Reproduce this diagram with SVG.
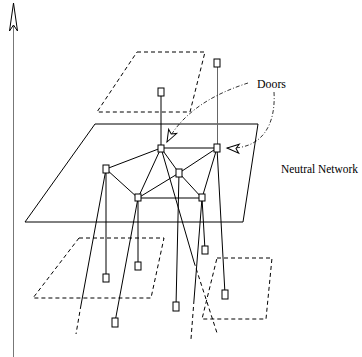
<svg xmlns="http://www.w3.org/2000/svg" width="362" height="357" viewBox="0 0 362 357">
<defs>
<style>
.ln{stroke:#000;stroke-width:1;fill:none}
.dsh{stroke:#000;stroke-width:1;fill:none;stroke-dasharray:4 3}
.dd{stroke:#000;stroke-width:0.8;fill:none;stroke-dasharray:4 2 1 2}
.nd{fill:#fff;stroke:#000;stroke-width:1}
.ah{fill:#fff;stroke:#000;stroke-width:1;stroke-linejoin:miter}
text{font-family:"Liberation Serif","Times New Roman",serif;font-size:12px;fill:#000}
</style>
<marker id="open" markerUnits="userSpaceOnUse" markerWidth="16" markerHeight="12" refX="14" refY="6" orient="auto" viewBox="0 0 16 12">
<path d="M14,6 L2,1.5 L5,6 L2,10.5 Z" fill="#fff" stroke="#000" stroke-width="1"/>
</marker>
</defs>
<rect width="362" height="357" fill="#fff"/>

<g id="axis">
<line x1="13.5" y1="26" x2="13.5" y2="357" stroke="#777" stroke-width="1"/>
<polygon class="ah" points="13.5,3 9.5,31 13.5,25 17.5,31"/>
</g>

<g id="planes">
<polygon class="dsh" points="137,52 205,52 190,112 97,112"/>
<polygon class="ln" points="95,124 258,124 243,222 25,222"/>
<polygon class="dsh" points="79,238 164,238 151,298 33,298"/>
<polygon class="dsh" points="217,258 272,258 266,319 202,319"/>
</g>

<g id="connectors">
<line class="ln" x1="161" y1="92" x2="161" y2="148"/>
<line x1="217.5" y1="63" x2="217.5" y2="148" stroke="#666" stroke-width="1"/>
<line class="ln" x1="161" y1="148" x2="217" y2="148"/>
<line class="ln" x1="161" y1="148" x2="106" y2="169"/>
<line class="ln" x1="161" y1="148" x2="138" y2="198"/>
<line class="ln" x1="161" y1="148" x2="179" y2="173"/>
<line class="ln" x1="179" y1="173" x2="202" y2="198"/>
<line class="ln" x1="217" y1="148" x2="179" y2="173"/>
<line class="ln" x1="179" y1="173" x2="138" y2="198"/>
<line class="ln" x1="217" y1="148" x2="202" y2="198"/>
<line class="ln" x1="106" y1="169" x2="138" y2="198"/>
<line class="ln" x1="138" y1="198" x2="202" y2="198"/>
<line class="ln" x1="106" y1="169" x2="106" y2="278"/>
<line class="ln" x1="138" y1="198" x2="138" y2="266"/>
<line class="ln" x1="138" y1="198" x2="115" y2="322"/>
<line class="ln" x1="202" y1="198" x2="205" y2="250"/>
<line class="ln" x1="217" y1="148" x2="225" y2="294"/>
<line class="ln" x1="179" y1="173" x2="176" y2="306"/>
<line class="ln" x1="106" y1="169" x2="81" y2="305"/>
<line class="dsh" x1="81" y1="305" x2="76" y2="334"/>
<line class="ln" x1="161" y1="148" x2="194" y2="262"/>
<line class="dsh" x1="194" y1="262" x2="217" y2="333"/>
<line class="ln" x1="202" y1="198" x2="194" y2="300"/>
<line class="dsh" x1="194" y1="300" x2="191" y2="339"/>
<path class="dd" d="M248,83 C220,92 185,108 167,142" marker-end="url(#open)"/>
<path class="dd" d="M274,92 C276,125 262,150 227,148" marker-end="url(#open)"/>
</g>

<g id="n-top1"><rect class="nd" x="158" y="88" width="6" height="8"/></g>
<g id="n-top2"><rect class="nd" x="214" y="59" width="6" height="8"/></g>
<g id="n1"><rect class="nd" x="158" y="145" width="6" height="7"/></g>
<g id="n2"><rect class="nd" x="214" y="144" width="6" height="8"/></g>
<g id="n3"><rect class="nd" x="103" y="165" width="6" height="8"/></g>
<g id="n4"><rect class="nd" x="176" y="169" width="6" height="8"/></g>
<g id="n5"><rect class="nd" x="135" y="194" width="6" height="7"/></g>
<g id="n6"><rect class="nd" x="199" y="194" width="6" height="7"/></g>
<g id="b1"><rect class="nd" x="103" y="274" width="6" height="8"/></g>
<g id="b2"><rect class="nd" x="135" y="262" width="6" height="8"/></g>
<g id="b3"><rect class="nd" x="112" y="318" width="6" height="9"/></g>
<g id="b4"><rect class="nd" x="202" y="246" width="6" height="8"/></g>
<g id="b5"><rect class="nd" x="222" y="290" width="6" height="9"/></g>
<g id="b6"><rect class="nd" x="173" y="302" width="6" height="9"/></g>

<g id="labels">
<text x="257" y="88" textLength="29" lengthAdjust="spacingAndGlyphs">Doors</text>
<text x="281" y="173" textLength="77" lengthAdjust="spacingAndGlyphs">Neutral Network</text>
</g>
</svg>
